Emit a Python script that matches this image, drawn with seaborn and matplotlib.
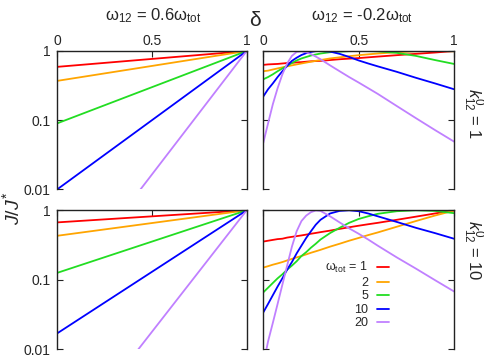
import numpy as np
import pandas as pd
import matplotlib
matplotlib.use("Agg")
import matplotlib.pyplot as plt
import seaborn as sns
from matplotlib.ticker import FixedLocator, FixedFormatter, NullLocator

# ---------------- data ----------------
OMEGA_TOT = [1, 2, 5, 10, 20]
COLORS = ["#ff0000", "#ffa500", "#22dd22", "#0000ff", "#c080ff"]
LEGEND_LABELS = ["ω$_{\\rm tot}$ = 1", "2", "5", "10", "20"]

X_TICKS = [0, 0.5, 1]
X_TICK_LABELS = ["0", "0.5", "1"]
Y_TICKS = [0.01, 0.1, 1]
Y_TICK_LABELS = ["0.01", "0.1", "1"]

# left column: straight lines on log scale (end points)
DELTA_ENDS = [0.0, 1.0]
TL_W1 = [0.59, 1.0]
TL_W2 = [0.37, 1.0]
TL_W5 = [0.09, 1.0]
TL_W10 = [0.0100, 1.0]
TL_W20 = [0.00027, 1.0]

BL_W1 = [0.67, 1.0]
BL_W2 = [0.43, 1.0]
BL_W5 = [0.126, 1.0]
BL_W10 = [0.017, 1.0]
BL_W20 = [0.00032, 1.0]

# right column: curves
DELTA = [0, 0.025, 0.05, 0.075, 0.1, 0.125, 0.15, 0.175, 0.2, 0.225, 0.25,
         0.275, 0.3, 0.35, 0.4, 0.45, 0.5, 0.55, 0.6, 0.7, 0.8, 0.9, 1.0]
TR_W1 = [0.63, 0.64, 0.645, 0.65, 0.66, 0.67, 0.675, 0.685, 0.69, 0.70, 0.71,
         0.715, 0.72, 0.74, 0.76, 0.775, 0.79, 0.81, 0.83, 0.87, 0.91, 0.95, 1.0]
TR_W2 = [0.51, 0.52, 0.54, 0.56, 0.58, 0.60, 0.62, 0.64, 0.66, 0.68, 0.70,
         0.72, 0.74, 0.78, 0.81, 0.84, 0.87, 0.895, 0.92, 0.96, 0.99, 1.0, 0.99]
TR_W5 = [0.39, 0.42, 0.46, 0.51, 0.56, 0.61, 0.67, 0.73, 0.78, 0.82, 0.86,
         0.89, 0.92, 0.96, 0.98, 0.995, 1.0, 0.997, 0.99, 0.94, 0.85, 0.74, 0.65]
TR_W10 = [0.22, 0.28, 0.34, 0.42, 0.51, 0.61, 0.72, 0.80, 0.875, 0.93, 0.97,
          0.995, 1.0, 0.98, 0.91, 0.82, 0.73, 0.66, 0.60, 0.50, 0.41, 0.34, 0.28]
TR_W20 = [0.047, 0.09, 0.17, 0.29, 0.46, 0.66, 0.85, 0.97, 0.99, 0.96, 0.90,
          0.83, 0.76, 0.62, 0.51, 0.42, 0.35, 0.29, 0.24, 0.16, 0.107, 0.072, 0.049]

BR_W1 = [0.355, 0.365, 0.375, 0.385, 0.39, 0.405, 0.415, 0.425, 0.435, 0.447, 0.46,
         0.472, 0.485, 0.51, 0.54, 0.57, 0.60, 0.63, 0.66, 0.73, 0.81, 0.90, 1.0]
BR_W2 = [0.15, 0.157, 0.165, 0.172, 0.18, 0.19, 0.20, 0.21, 0.22, 0.232, 0.245,
         0.257, 0.27, 0.30, 0.33, 0.365, 0.40, 0.44, 0.48, 0.58, 0.70, 0.84, 0.99]
BR_W5 = [0.066, 0.077, 0.09, 0.105, 0.12, 0.14, 0.16, 0.185, 0.22, 0.25, 0.29,
         0.33, 0.38, 0.47, 0.56, 0.66, 0.75, 0.82, 0.89, 0.97, 1.0, 0.98, 0.91]
BR_W10 = [0.034, 0.045, 0.06, 0.08, 0.105, 0.14, 0.18, 0.24, 0.31, 0.40, 0.50,
          0.62, 0.73, 0.90, 0.98, 1.0, 0.97, 0.90, 0.82, 0.68, 0.56, 0.47, 0.39]
BR_W20 = [0.006, 0.013, 0.024, 0.045, 0.085, 0.16, 0.30, 0.50, 0.70, 0.84, 0.94,
          0.995, 0.98, 0.82, 0.67, 0.55, 0.46, 0.38, 0.31, 0.21, 0.145, 0.099, 0.068]


def make_df(delta, series):
    rows = []
    for w, vals in zip(OMEGA_TOT, series):
        for d, v in zip(delta, vals):
            rows.append({"delta": d, "J": v, "omega": w})
    return pd.DataFrame(rows)


panels = [
    make_df(DELTA_ENDS, [TL_W1, TL_W2, TL_W5, TL_W10, TL_W20]),
    make_df(DELTA, [TR_W1, TR_W2, TR_W5, TR_W10, TR_W20]),
    make_df(DELTA_ENDS, [BL_W1, BL_W2, BL_W5, BL_W10, BL_W20]),
    make_df(DELTA, [BR_W1, BR_W2, BR_W5, BR_W10, BR_W20]),
]

# ---------------- style ----------------
sns.set_style("ticks")
plt.rcParams["font.family"] = ["Liberation Sans", "DejaVu Sans"]
plt.rcParams["mathtext.fontset"] = "custom"
plt.rcParams["mathtext.rm"] = "Liberation Sans"
plt.rcParams["mathtext.it"] = "Liberation Sans:italic"
plt.rcParams["mathtext.bf"] = "Liberation Sans:bold"

W, H = 485, 357
fig = plt.figure(figsize=(W / 100, H / 100), dpi=100)

def rect(x0, y0, x1, y1):
    return [x0 / W, 1 - y1 / H, (x1 - x0) / W, (y1 - y0) / H]

rects = [
    rect(57.3, 51, 246.7, 189.3),
    rect(263.3, 51, 454, 189.3),
    rect(57.3, 210.3, 246.7, 349.3),
    rect(263.3, 210.3, 454, 349.3),
]

palette = dict(zip(OMEGA_TOT, COLORS))
for i, (df, r) in enumerate(zip(panels, rects)):
    row, col = divmod(i, 2)
    ax = fig.add_axes(r)
    sns.lineplot(data=df, x="delta", y="J", hue="omega", palette=palette,
                 ax=ax, legend=(i == 3), linewidth=1.3, estimator=None,
                 errorbar=None)
    ax.set_yscale("log")
    ax.set_xlim(0, 1)
    ax.set_ylim(0.01, 1)
    ax.xaxis.set_major_locator(FixedLocator(X_TICKS))
    ax.xaxis.set_major_formatter(FixedFormatter(X_TICK_LABELS))
    ax.yaxis.set_major_locator(FixedLocator(Y_TICKS))
    ax.yaxis.set_major_formatter(FixedFormatter(Y_TICK_LABELS))
    ax.yaxis.set_minor_locator(NullLocator())
    ax.xaxis.set_minor_locator(NullLocator())
    ax.set_xlabel("")
    ax.set_ylabel("")
    ax.spines["bottom"].set_visible(False)
    for s in ["top", "left", "right"]:
        ax.spines[s].set_visible(True)
        ax.spines[s].set_color("#222222")
        ax.spines[s].set_linewidth(1.0)
    ax.tick_params(axis="x", which="both", top=True, bottom=False,
                   labeltop=(row == 0), labelbottom=False, direction="in",
                   length=4, width=0.8, pad=2, labelsize=10, color="#222222")
    ax.tick_params(axis="y", which="both", left=True, right=True,
                   labelleft=(col == 0), labelright=False, direction="in",
                   length=4, width=0.8, pad=5, labelsize=10, color="#222222")
    if i == 3:
        handles, _ = ax.get_legend_handles_labels()
        ax.legend(handles, LEGEND_LABELS, loc="upper right",
                  bbox_to_anchor=(0.66, 0.64), frameon=False,
                  markerfirst=False, handlelength=1.0, handletextpad=0.7,
                  labelspacing=0.12, borderpad=0, borderaxespad=0,
                  fontsize=9)

fig.text(153 / W, 1 - 16 / H, "ω$_{12}$ = 0.6ω$_{\\rm tot}$",
         ha="center", va="center", fontsize=12)
fig.text(362 / W, 1 - 16 / H, "ω$_{12}$ = -0.2ω$_{\\rm tot}$",
         ha="center", va="center", fontsize=12)
fig.text(255 / W, 1 - 21 / H, "δ", ha="center", va="center", fontsize=15)
fig.text(12 / W, 1 - 208 / H, "$J/J^{*}$", ha="center", va="center",
         rotation=90, fontsize=14)
fig.text(473 / W, 1 - 114 / H, "$k^0_{12}$ = 1", ha="center", va="center",
         rotation=-90, fontsize=12)
fig.text(473 / W, 1 - 250 / H, "$k^0_{12}$ = 10", ha="center", va="center",
         rotation=-90, fontsize=12)

fig.savefig("out.png", dpi=100)
